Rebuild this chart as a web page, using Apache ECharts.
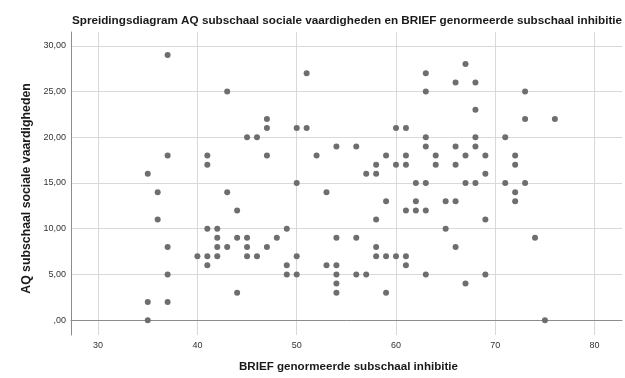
<!DOCTYPE html>
<html>
<head>
<meta charset="utf-8">
<script src="https://cdn.jsdelivr.net/npm/echarts@6/dist/echarts.min.js"></script>
<style>
  html, body { margin: 0; padding: 0; background: #fff; }
  #chart { width: 625px; height: 378px; }
</style>
</head>
<body>
<div id="chart"></div>
<script>
// BRIEF genormeerde subschaal inhibitie (x) per deelnemer
const briefInhibitie = [
  37, 43, 47, 47, 45, 46, 37, 41, 41, 47, 35,
  36, 43, 44, 36, 41, 42, 42, 44, 45, 48, 37, 42, 43, 45, 47, 40, 41, 42, 45, 46, 41, 37, 44, 35, 37, 35,
  51, 63, 63, 50, 51, 60, 61, 63, 54, 56, 63, 52, 59, 61, 64, 58, 60, 61, 64, 57, 58, 50, 62, 63,
  53, 59, 62, 58, 61, 62, 63, 49, 54, 56, 58, 50, 58, 59, 60, 61, 49, 53, 54, 61, 49, 50, 54, 56, 57, 63, 54, 54, 59,
  67, 66, 68, 73, 68, 73, 76, 68, 71, 66, 68, 67, 69, 72, 66, 72, 69, 67, 68, 71, 73,
  72, 65, 66, 72, 69, 65, 74, 66, 69, 67, 75
];
// AQ subschaal sociale vaardigheden (y) per deelnemer
const aqSocialeVaardigheden = [
  29, 25, 22, 21, 20, 20, 18, 18, 17, 18, 16,
  14, 14, 12, 11, 10, 10, 9, 9, 9, 9, 8, 8, 8, 8, 8, 7, 7, 7, 7, 7, 6, 5, 3, 2, 2, 0,
  27, 27, 25, 21, 21, 21, 21, 20, 19, 19, 19, 18, 18, 18, 18, 17, 17, 17, 17, 16, 16, 15, 15, 15,
  14, 13, 13, 11, 12, 12, 12, 10, 9, 9, 8, 7, 7, 7, 7, 7, 6, 6, 6, 6, 5, 5, 5, 5, 5, 5, 4, 3, 3,
  28, 26, 26, 25, 23, 22, 22, 20, 20, 19, 19, 18, 18, 18, 17, 17, 16, 15, 15, 15, 15,
  14, 13, 13, 13, 11, 10, 9, 8, 5, 4, 0
];

// Axis ticks and their printed labels
const xTicks = [30, 40, 50, 60, 70, 80];
const xTickLabels = ['30', '40', '50', '60', '70', '80'];
const yTicks = [0, 5, 10, 15, 20, 25, 30];
const yTickLabels = [',00', '5,00', '10,00', '15,00', '20,00', '25,00', '30,00'];

const titleText = 'Spreidingsdiagram AQ subschaal sociale vaardigheden en BRIEF genormeerde subschaal inhibitie';
const xName = 'BRIEF genormeerde subschaal inhibitie';
const yName = 'AQ subschaal sociale vaardigheden';

const points = briefInhibitie.map((x, i) => [x, aqSocialeVaardigheden[i]]);

const font = 'Liberation Sans, Arial, sans-serif';
const gridColor = '#d9d9d9';
const axisColor = '#8c8c8c';

const chart = echarts.init(document.getElementById('chart'), null, { renderer: 'canvas' });
chart.setOption({
  animation: false,
  backgroundColor: '#ffffff',
  title: {
    text: titleText,
    left: 67,
    top: 10,
    textStyle: { fontFamily: font, fontSize: 11.7, fontWeight: 'bold', color: '#1a1a1a' }
  },
  grid: { left: 71, right: 3, top: 32, bottom: 39, containLabel: false },
  xAxis: {
    type: 'value',
    min: 27.27,
    max: 82.76,
    name: xName,
    nameLocation: 'middle',
    nameGap: 26,
    nameTextStyle: { fontFamily: font, fontSize: 11.6, fontWeight: 'bold', color: '#1a1a1a', padding: [0, 0, 0, 4] },
    axisLine: { show: true, lineStyle: { color: axisColor, width: 1 } },
    axisTick: { show: false, customValues: xTicks },
    axisLabel: {
      customValues: xTicks,
      margin: 6,
      fontFamily: font, fontSize: 9, color: '#333',
      formatter: v => xTickLabels[xTicks.indexOf(Math.round(v))] ?? ''
    },
    splitLine: { show: true, lineStyle: { color: gridColor, width: 1 } }
  },
  yAxis: {
    type: 'value',
    min: -1.62,
    max: 31.51,
    name: yName,
    nameLocation: 'middle',
    nameGap: 31,
    nameRotate: 90,
    nameTextStyle: { fontFamily: font, fontSize: 12.3, fontWeight: 'bold', color: '#1a1a1a', padding: [0, 10, 0, 0] },
    axisLine: { show: true, lineStyle: { color: axisColor, width: 1 } },
    axisTick: { show: false, customValues: yTicks },
    axisLabel: {
      customValues: yTicks,
      margin: 5,
      fontFamily: font, fontSize: 9, color: '#333',
      formatter: v => yTickLabels[yTicks.indexOf(Math.round(v))] ?? ''
    },
    splitLine: { show: true, lineStyle: { color: gridColor, width: 1 } }
  },
  series: [{
    type: 'scatter',
    data: points,
    symbol: 'circle',
    symbolSize: 6,
    itemStyle: { color: '#6e6e6e', opacity: 1 },
    emphasis: { disabled: true }
  }]
});
</script>
</body>
</html>
